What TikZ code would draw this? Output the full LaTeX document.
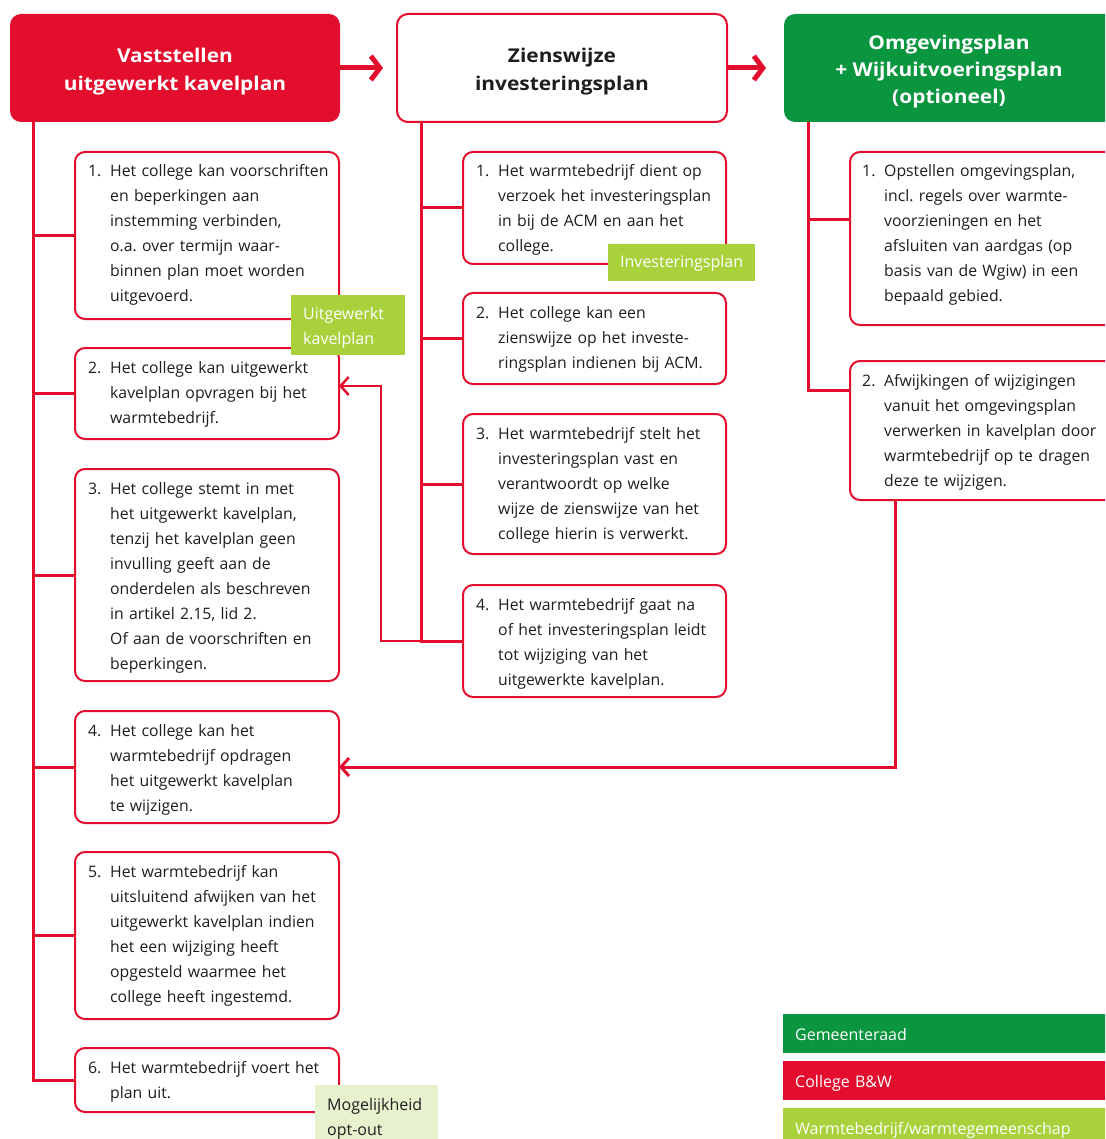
\documentclass[tikz,border=0pt]{standalone}
\usepackage{fontspec}
\setmainfont{Open Sans}
\newfontfamily\headfont[FakeStretch=1.1]{Open Sans}
\usetikzlibrary{arrows.meta}
\definecolor{rd}{HTML}{E30D2D}
\definecolor{gn}{HTML}{0A963F}
\definecolor{lg}{HTML}{A8D13C}
\definecolor{pg}{HTML}{E6F2CD}
\definecolor{tx}{HTML}{1E1E1E}
\frenchspacing
\tikzset{
  cbox/.style={draw=rd, fill=white, line width=2pt, rounded corners=10pt, inner sep=0pt, outer sep=0pt, anchor=north west},
  hbox/.style={rounded corners=11pt, inner sep=0pt, outer sep=0pt, anchor=north west},
  conn/.style={draw=rd, line width=3pt},
  thinconn/.style={draw=rd, line width=2.5pt},
  harrow/.style={draw=rd, line width=5pt, -{Straight Barb[length=9pt,width=24pt]}},
  carrow/.style={-{Straight Barb[length=8pt,width=18pt]}},
  txt/.style={font=\fontsize{15.8}{25}\selectfont, text=tx, anchor=base west, align=left, inner sep=0pt, text width=300pt},
  head/.style={font=\headfont\fontsize{19}{28}\selectfont\bfseries, align=center, inner sep=0pt},
  tagbox/.style={anchor=north west, inner sep=0pt, outer sep=0pt},
  tagtext/.style={anchor=base west, inner sep=0pt, align=left, text width=300pt, font=\fontsize{16}{25}\selectfont},
}
\newcommand\numtext[5]{%
  \node[txt, text width=20pt] (#1n) at (#2,#4) {#3.};
  \node[txt] (#1t) at (#2+22,#4) {#5};}
\begin{document}
\begin{tikzpicture}[x=1pt,y=-1pt]
\useasboundingbox (0,0) rectangle (1105,1139);
\clip (0,0) rectangle (1105,1139);

% headers
\node[hbox, fill=rd, minimum width=330, minimum height=108] (H1) at (10,14) {};
\node[hbox, draw=rd, line width=2pt, fill=white, minimum width=330, minimum height=108] (H2) at (397,14) {};
\node[hbox, fill=gn, minimum width=350, minimum height=108] (H3) at (784,14) {};
\node[head, text=white] (H1t) at (175,72) {Vaststellen\\uitgewerkt kavelplan};
\node[head, text=tx] (H2t) at (562,72) {Zienswijze\\investeringsplan};
\node[head, text=white, font=\headfont\fontsize{19}{27}\selectfont\bfseries] (H3t) at (949,72) {Omgevingsplan\\+ Wijkuitvoeringsplan\\(optioneel)};

\draw[harrow, shorten >=14pt] (H1.east) -- (H2.west);
\draw[harrow, shorten >=18pt] (H2.east) -- (H3.west);

% left boxes
\node[cbox, minimum width=264, minimum height=167] (L1) at (75,152) {};
\node[cbox, minimum width=264, minimum height=91] (L2) at (75,348) {};
\node[cbox, minimum width=264, minimum height=212] (L3) at (75,469) {};
\node[cbox, minimum width=264, minimum height=112] (L4) at (75,711) {};
\node[cbox, minimum width=264, minimum height=167] (L5) at (75,852) {};
\node[cbox, minimum width=264, minimum height=64] (L6) at (75,1048) {};

% middle boxes
\node[cbox, minimum width=263, minimum height=112] (M1) at (463,152) {};
\node[cbox, minimum width=263, minimum height=91] (M2) at (463,293) {};
\node[cbox, minimum width=263, minimum height=140] (M3) at (463,414) {};
\node[cbox, minimum width=263, minimum height=112] (M4) at (463,585) {};

% right boxes
\node[cbox, minimum width=280, minimum height=173] (R1) at (850,152) {};
\node[cbox, minimum width=280, minimum height=139] (R2) at (850,361) {};

% trunks
\coordinate (tL) at (33,122);
\coordinate (tM) at (421,122);
\coordinate (tR) at (808,122);
\draw[conn] (tL) |- (L6.west);
\foreach \b in {L1,L2,L3,L4,L5} \draw[conn] (\b.west -| tL) -- (\b.west);
\draw[conn] (tM) |- (M4.west);
\foreach \b in {M1,M2,M3} \draw[conn] (\b.west -| tM) -- (\b.west);
\coordinate (R1in) at ([yshift=-68pt]R1.north west);
\coordinate (R2in) at ([yshift=-29pt]R2.north west);
\draw[conn] (tR) |- (R2in);
\draw[conn] (R1in -| tR) -- (R1in);

% cross connectors
\coordinate (L2in) at ([yshift=7.5pt]L2.east);
\draw[thinconn, carrow] (M4.west -| tM) -- ++(-40,0) |- (L2in);
\draw[conn, carrow] ([xshift=45pt]R2.south west) |- (L4.east);

% texts left
\numtext{L1}{88}{1}{177}{Het college kan voorschriften\\en beperkingen aan\\instemming verbinden,\\o.a. over termijn waar-\\binnen plan moet worden\\uitgevoerd.}
\numtext{L2}{88}{2}{373}{Het college kan uitgewerkt\\kavelplan opvragen bij het\\warmtebedrijf.}
\numtext{L3}{88}{3}{494}{Het college stemt in met\\het uitgewerkt kavelplan,\\tenzij het kavelplan geen\\invulling geeft aan de\\onderdelen als beschreven\\in artikel 2.15, lid 2.\\Of aan de voorschriften en\\beperkingen.}
\numtext{L4}{88}{4}{736}{Het college kan het\\warmtebedrijf opdragen\\het uitgewerkt kavelplan\\te wijzigen.}
\numtext{L5}{88}{5}{877}{Het warmtebedrijf kan\\uitsluitend afwijken van het\\uitgewerkt kavelplan indien\\het een wijziging heeft\\opgesteld waarmee het\\college heeft ingestemd.}
\numtext{L6}{88}{6}{1073}{Het warmtebedrijf voert het\\plan uit.}

% texts middle
\numtext{M1}{476}{1}{177}{Het warmtebedrijf dient op\\verzoek het investeringsplan\\in bij de ACM en aan het\\college.}
\numtext{M2}{476}{2}{318}{Het college kan een\\zienswijze op het investe-\\ringsplan indienen bij ACM.}
\numtext{M3}{476}{3}{439}{Het warmtebedrijf stelt het\\investeringsplan vast en\\verantwoordt op welke\\wijze de zienswijze van het\\college hierin is verwerkt.}
\numtext{M4}{476}{4}{610}{Het warmtebedrijf gaat na\\of het investeringsplan leidt\\tot wijziging van het\\uitgewerkte kavelplan.}

% texts right
\numtext{R1}{862}{1}{177}{Opstellen omgevingsplan,\\incl. regels over warmte-\\voorzieningen en het\\afsluiten van aardgas (op\\basis van de Wgiw) in een\\bepaald gebied.}
\numtext{R2}{862}{2}{386}{Afwijkingen of wijzigingen\\vanuit het omgevingsplan\\verwerken in kavelplan door\\warmtebedrijf op te dragen\\deze te wijzigen.}

% tags
\node[tagbox, fill=lg, minimum width=147, minimum height=37] (T1) at (608,244) {};
\node[tagtext, text=white] (T1t) at (620,268) {Investeringsplan};
\node[tagbox, fill=lg, minimum width=114, minimum height=60] (T2) at (291,295) {};
\node[tagtext, text=white] (T2t) at (303,319) {Uitgewerkt\\kavelplan};
\node[tagbox, fill=pg, minimum width=123, minimum height=60] (T3) at (315,1085) {};
\node[tagtext, text=tx] (T3t) at (327,1110) {Mogelijkheid\\opt-out};

% legend
\node[tagbox, fill=gn, minimum width=330, minimum height=39] (G1) at (783,1014) {};
\node[tagtext, text=white] (G1t) at (795,1040) {Gemeenteraad};
\node[tagbox, fill=rd, minimum width=330, minimum height=39] (G2) at (783,1061) {};
\node[tagtext, text=white] (G2t) at (795,1087) {College B\&W};
\node[tagbox, fill=lg, minimum width=330, minimum height=39] (G3) at (783,1108) {};
\node[tagtext, text=white] (G3t) at (795,1134) {Warmtebedrijf/warmtegemeenschap};
\end{tikzpicture}
\end{document}
